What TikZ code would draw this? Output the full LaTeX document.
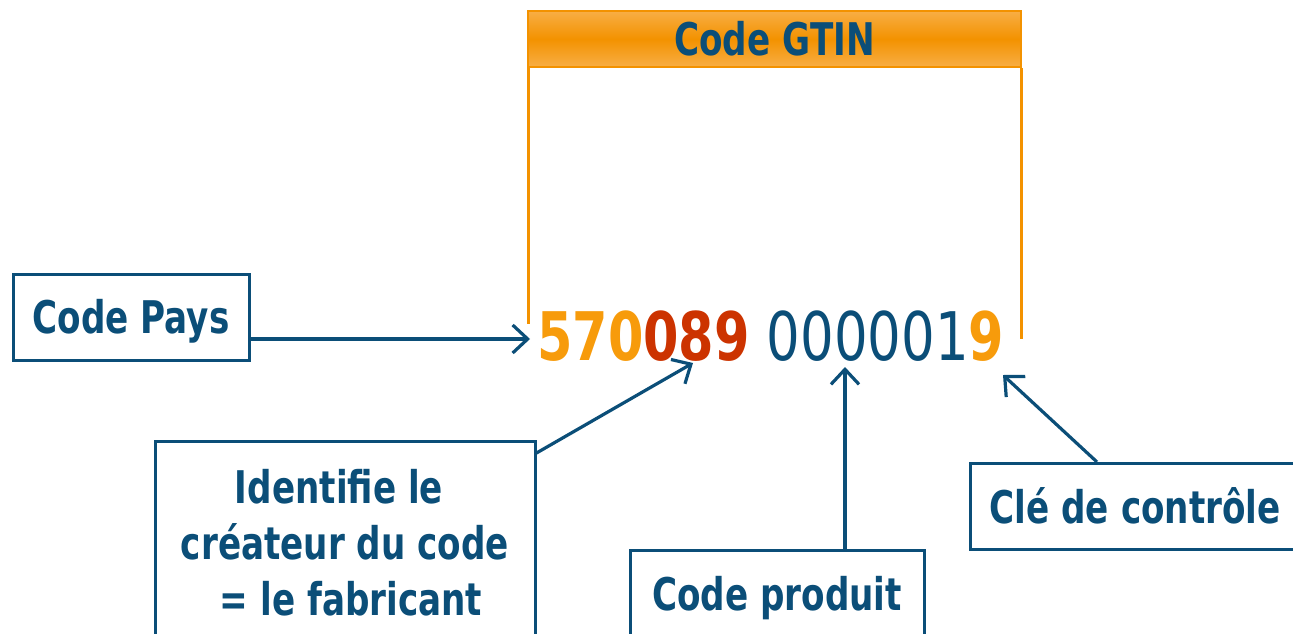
\documentclass[tikz,border=0pt]{standalone}
\usepackage{fontspec}
\setmainfont{DejaVu Sans}[FakeStretch=0.76]
\newfontfamily\regdigits{DejaVu Sans}[FakeStretch=0.79]
\usetikzlibrary{arrows.meta,calc}
\definecolor{gblue}{HTML}{0B4E78}
\definecolor{gorange}{HTML}{F79B0B}
\definecolor{gred}{HTML}{CC3300}
\definecolor{frameor}{HTML}{F39200}
\definecolor{lightor}{HTML}{F8AE45}
\begin{document}
\begin{tikzpicture}[x=1pt,y=-1pt,
  box/.style={draw=gblue, line width=3pt, text=gblue, font=\fontsize{45}{56}\selectfont\bfseries, inner sep=0pt},
  onebox/.style={box, minimum height=86pt, text height=38pt, text depth=5pt},
  conn/.style={draw=gblue, line width=3.2pt, -{Straight Barb[length=15pt,width=28pt]}},
  frame/.style={draw=frameor, line width=3pt}
]
\useasboundingbox (0,0) rectangle (1293,634);
\clip (0,0) rectangle (1293,634);

% header
\node[draw=frameor, line width=2pt, top color=lightor, bottom color=lightor, middle color=frameor,
      minimum width=493pt, minimum height=56pt, anchor=north west, inner sep=0pt,
      text=gblue, font=\fontsize{45}{56}\selectfont\bfseries] (gtin) at (527,10) {Code GTIN};
\draw[frame] ([xshift=1pt]gtin.south west) -- ++(0,256);
\draw[frame] ([xshift=-1pt]gtin.south east) -- ++(0,271);

% digits
\node[anchor=base west, inner sep=0pt, font=\fontsize{67}{67}\selectfont] (digits) at (537,360)
  {\textbf{\color{gorange}570\color{gred}089}\hspace{17pt}{\regdigits\color{gblue}000001}\textbf{\color{gorange}9}};

\coordinate (tipPays) at (530,339);
\coordinate (tipFab) at (693,363);
\coordinate (tipProd) at (845,367);
\coordinate (tipCle) at (1003,375);

% boxes
\node[onebox, minimum width=236pt] (pays) at (131,317) {Code Pays};
\node[box, minimum width=380pt, minimum height=202pt, align=center, anchor=north] (fab) at (345,440)
  {Identifie le\hspace*{12pt}\\créateur du code\\\hspace*{12pt}= le fabricant};
\node[onebox, minimum width=294pt, anchor=north] (prod) at (777,549) {Code produit};
\node[onebox, inner xsep=19pt, anchor=north west] (cle) at (969,462) {Clé de contrôle};

% connectors
\draw[conn] (pays.east |- tipPays) -- (tipPays);
\draw[conn] ($(fab.north east)+(0,13)$) -- (tipFab);
\draw[conn] (prod.north -| tipProd) -- (tipProd);
\draw[conn] ($(cle.north west)+(128,0)$) -- (tipCle);
\end{tikzpicture}
\end{document}
